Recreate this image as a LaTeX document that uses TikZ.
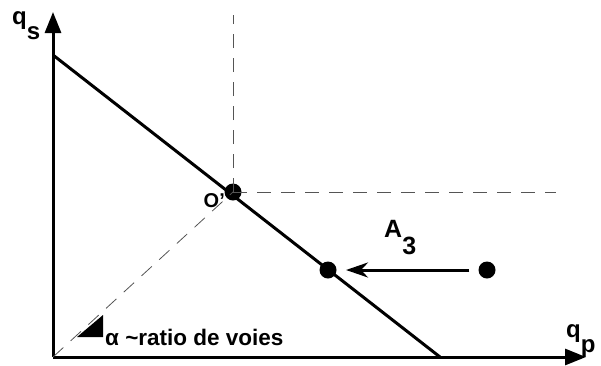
\documentclass[tikz,border=0pt]{standalone}
\usepackage{fontspec}
\setmainfont{Liberation Sans}
\usepackage{tikz}
\usetikzlibrary{arrows.meta,calc,positioning}
\definecolor{axisline}{HTML}{000000}
\definecolor{guidegray}{HTML}{555555}
\tikzset{
every picture/.style={line join=miter},
axis line/.style={draw=axisline, line width=3pt, -{Triangle[length=21pt,width=16pt]}},
frontier line/.style={draw=axisline, line width=3pt},
guide line/.style={draw=guidegray, line width=0.8pt, dash pattern=on 14pt off 10pt},
move arrow/.style={draw=axisline, line width=3pt, -{Stealth[length=22pt,width=15pt,inset=7pt]}},
state dot/.style={circle, fill=black, inner sep=0pt, minimum size=17pt},
axis label/.style={font=\fontsize{24}{24}\selectfont\bfseries, inner sep=0pt},
fig label/.style={font=\fontsize{20}{20}\selectfont\bfseries, inner sep=0pt}
}
\begin{document}
\begin{tikzpicture}[x=1pt,y=-1pt]
\useasboundingbox (0,0) rectangle (601,365);
% axes
\coordinate (origin) at (53,357);
\coordinate (ytop) at (53,12);
\coordinate (xend) at (586,357);
\draw[axis line] (origin) -- (ytop);
\draw[axis line] (origin) -- (xend);
\node[axis label,anchor=base west] (qs) at (12,24) {q\raisebox{-15pt}{s}};
\node[axis label,anchor=base west] (qp) at (566,337) {q\raisebox{-15pt}{p}};
% frontier
\coordinate (frontTop) at (53,55);
\coordinate (frontBot) at (440,357);
\draw[frontier line] (frontTop) -- (frontBot);
% guides through O'
\node[state dot] (oprime) at (233,192) {};
\coordinate (vtop) at (233,15);
\coordinate (hend) at (556,192);
\draw[guide line] (oprime.center) -- (vtop);
\draw[guide line] (oprime.center) -- (hend);
\draw[guide line] (origin) -- (oprime.center);
\node[fig label,anchor=base east] (olabel) at (225,207) {O’};
% point A3 moved onto the frontier
\node[state dot] (ptfront) at (328,270) {};
\node[state dot] (ptstart) at (487,270) {};
\coordinate (arrowend) at (346,270);
\draw[move arrow] ($(ptstart.west)+(-9,0)$) -- (arrowend);
\node[font=\fontsize{25}{25}\selectfont\bfseries, inner sep=0pt, anchor=base west] (a3) at (384,237) {A\raisebox{-17pt}{3}};
% angle marker
\fill (77,337) -- (103,315) -- (103,337) -- cycle;
\node[font=\fontsize{22.5}{22.5}\selectfont\bfseries, inner sep=0pt, anchor=base west] (alpha) at (105,345) {α \textasciitilde ratio de voies};
\end{tikzpicture}
\end{document}
